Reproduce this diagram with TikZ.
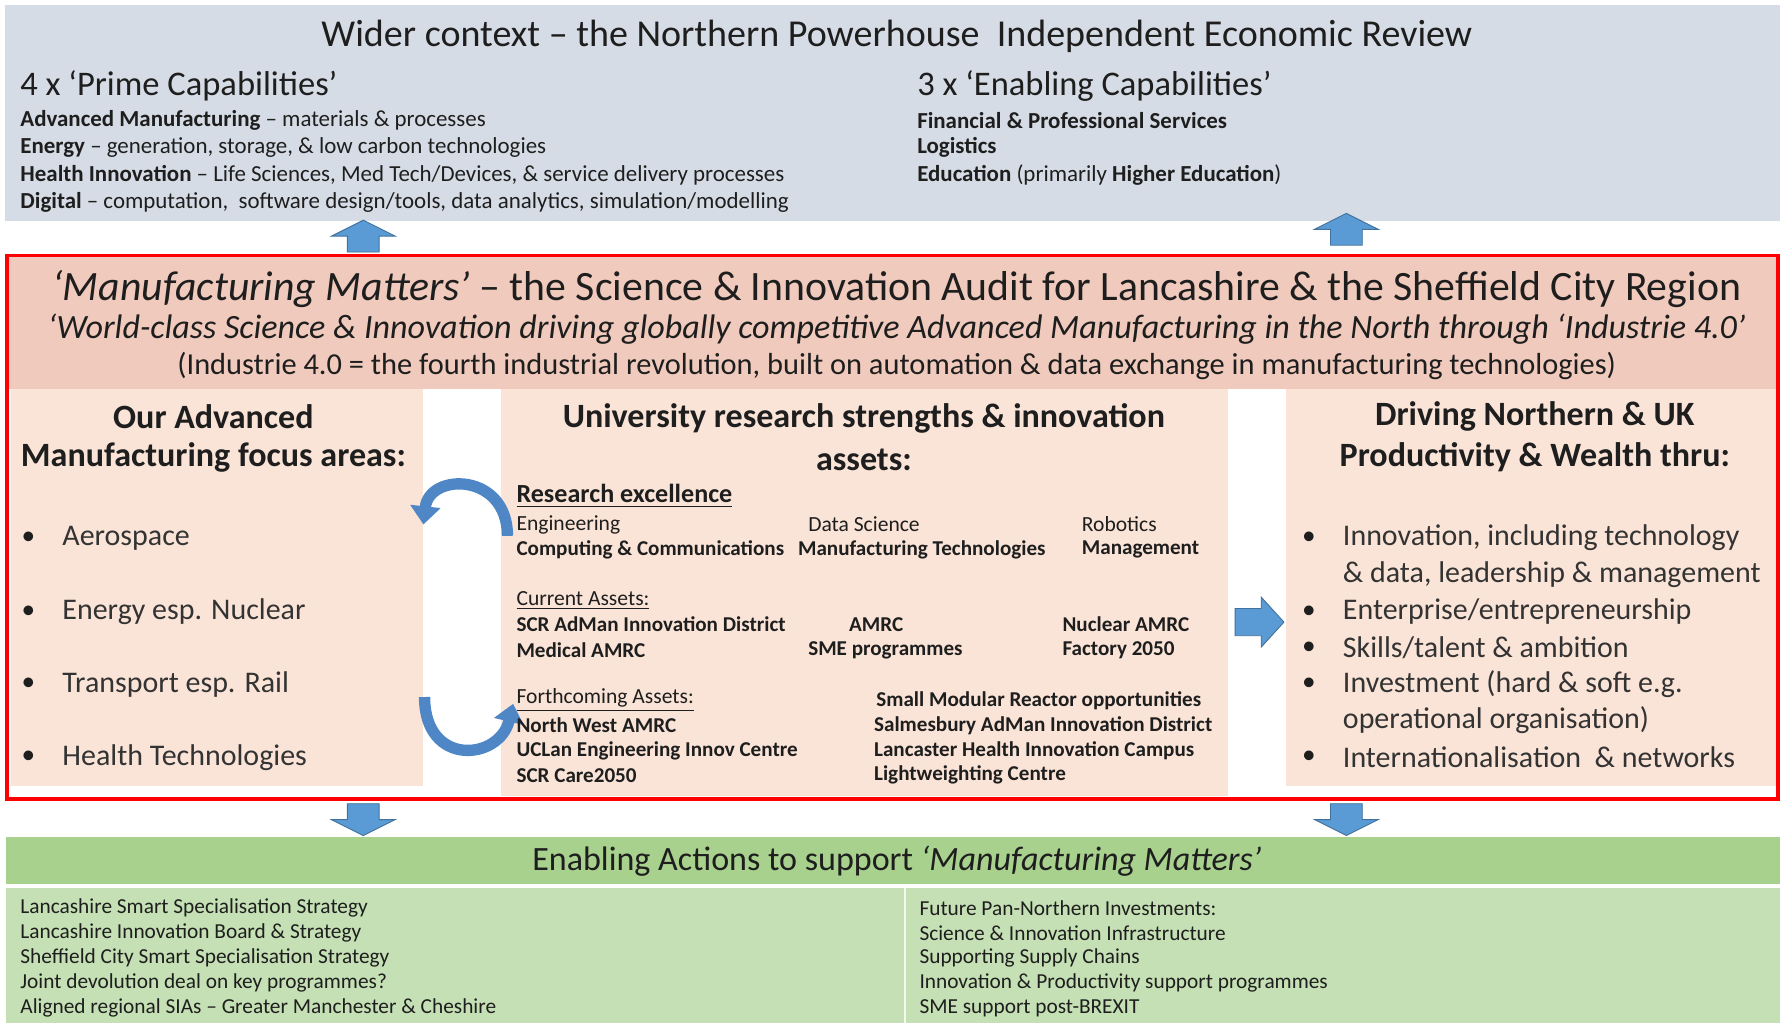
\documentclass[tikz,border=0pt]{standalone}
\usepackage{fontspec}
\setmainfont{Carlito}
\usetikzlibrary{arrows.meta}
\definecolor{greybox}{HTML}{D6DCE5}
\definecolor{hdr}{HTML}{F0CABC}
\definecolor{panel}{HTML}{FAE4D7}
\definecolor{ablue}{HTML}{5B9BD5}
\definecolor{ablued}{HTML}{41719C}
\definecolor{cblue}{HTML}{4F86C6}
\definecolor{ghdr}{HTML}{A9D18E}
\definecolor{gbody}{HTML}{C5E0B4}
\definecolor{txt}{HTML}{1E1E1E}
\definecolor{txtg}{HTML}{333333}
\definecolor{redline}{HTML}{FF0000}
\newcommand\myfs[2]{\fontsize{#1}{#2}\selectfont}
\tikzset{
  every node/.style={inner sep=0pt, outer sep=0pt, text=txt},
  lbl/.style={anchor=west},
  ctr/.style={anchor=center},
  bigtitle/.style={ctr, font=\myfs{16.75}{19}},
  captitle/.style={lbl, font=\myfs{15.2}{18}},
  topsmall/.style={lbl, font=\myfs{10.1}{12}},
  paneltitle/.style={ctr, font=\myfs{15}{18}\bfseries},
  bullettext/.style={lbl, font=\myfs{13.2}{15}, text=txtg},
  bulletdot/.style={lbl, font=\myfs{12}{15}},
  midsmall/.style={lbl, font=\myfs{9.5}{11}},
  midbold/.style={lbl, font=\myfs{9.3}{11}\bfseries},
  greensmall/.style={lbl, font=\myfs{9.4}{11}},
  blockarrow/.style={fill=ablue, draw=ablued, line width=0.4pt},
  curvarr/.style={draw=cblue, line width=5pt, -{Triangle[width=13pt,length=8pt]}},
  uparrowpic/.pic={\path[blockarrow] (-14,14) -- (-14,0) -- (-28,0) -- (0,-14) -- (28,0) -- (14,0) -- (14,14) -- cycle;},
  downarrowpic/.pic={\path[blockarrow] (-14,-14) -- (-14,0) -- (-28,0) -- (0,14) -- (28,0) -- (14,0) -- (14,-14) -- cycle;}
}
\begin{document}
\begin{tikzpicture}[x=0.5pt,y=-0.5pt]
\useasboundingbox (0,0) rectangle (1568,901);
\fill[white] (0,0) rectangle (1568,901);

% ---------- top grey box ----------
\fill[greybox] (4,4) rectangle (1568,195);
\node[bigtitle] (wider) at (790,32) {Wider context – the Northern Powerhouse\ \ Independent Economic Review};
\node[captitle] (prime) at (18,76) {4 x ‘Prime Capabilities’};
\node[topsmall] (p1) at (18,106) {\textbf{Advanced Manufacturing} – materials \& processes};
\node[topsmall] (p2) at (18,130) {\textbf{Energy} – generation, storage, \& low carbon technologies};
\node[topsmall] (p3) at (18,154) {\textbf{Health Innovation} – Life Sciences, Med Tech/Devices, \& service delivery processes};
\node[topsmall] (p4) at (18,178) {\textbf{Digital} – computation,\ \ software design/tools, data analytics, simulation/modelling};
\node[captitle] (enab) at (808,76) {3 x ‘Enabling Capabilities’};
\node[topsmall] (e1) at (808,106) {\textbf{Financial \& Professional Services}};
\node[topsmall] (e2) at (808,130) {\textbf{Logistics}};
\node[topsmall] (e3) at (808,154) {\textbf{Education} (primarily \textbf{Higher Education})};

% up arrows
\pic at (320,208) {uparrowpic};
\pic at (1186,202) {uparrowpic};

% ---------- red box ----------
\fill[hdr] (7,226) rectangle (1566,343);
\fill[panel] (10,343) rectangle (373,692);
\fill[panel] (441,343) rectangle (1082,701);
\fill[panel] (1133,343) rectangle (1566,692);
\draw[redline, line width=1.6pt] (6,225) rectangle (1566,704);

\node[ctr, font=\myfs{18.4}{21}] (mmtitle) at (790,255) {\textit{‘Manufacturing Matters’} – the Science \& Innovation Audit for Lancashire \& the Sheffield City Region};
\node[ctr, font=\myfs{15}{17}\itshape] (world) at (790,290) {‘World-class Science \& Innovation driving globally competitive Advanced Manufacturing in the North through ‘Industrie 4.0’};
\node[ctr, font=\myfs{13.4}{15}] (indus) at (790,322) {(Industrie 4.0 = the fourth industrial revolution, built on automation \& data exchange in manufacturing technologies)};

% left panel
\node[paneltitle] (lt1) at (188,367) {Our Advanced};
\node[paneltitle] (lt2) at (188,403) {Manufacturing focus areas:};
\foreach \yy/\tt [count=\i] in {474/Aerospace, 539/Energy esp. Nuclear, 603/Transport esp. Rail, 667/Health Technologies}{
  \node[bulletdot] (lb\i) at (19,\yy) {•};
  \node[bullettext] (lf\i) at (55,\yy) {\tt};
}

% curved arrows
\draw[curvarr] (447,472) .. controls (447,416) and (378,416) .. (373,462);
\draw[curvarr] (374,614) .. controls (374,676) and (440,670) .. (452,620);

% middle panel
\node[paneltitle] (mt1) at (761,369) {University research strengths \& innovation};
\node[paneltitle] (mt2) at (761,405) {assets:};
\node[lbl, font=\myfs{11.5}{13}\bfseries] (rex) at (455,437) {\underline{Research excellence}};
\node[midsmall] (m1a) at (455,462) {Engineering};
\node[midsmall] (m1b) at (712,462) {Data Science};
\node[midsmall] (m1c) at (953,462) {Robotics};
\node[midbold] (m2a) at (455,484) {Computing \& Communications};
\node[midbold] (m2b) at (703,484) {Manufacturing Technologies};
\node[midbold] (m2c) at (953,484) {Management};
\node[midsmall] (cur) at (455,529) {\underline{Current Assets:}};
\node[midbold] (c1a) at (455,550) {SCR AdMan Innovation District};
\node[midbold] (c1b) at (748,550) {AMRC};
\node[midbold] (c1c) at (936,550) {Nuclear AMRC};
\node[midbold] (c2a) at (455,573) {Medical AMRC};
\node[midbold] (c2b) at (712,573) {SME programmes};
\node[midbold] (c2c) at (936,573) {Factory 2050};
\node[midsmall] (fort) at (455,617) {\underline{Forthcoming Assets:}};
\node[midbold] (f1a) at (455,639) {North West AMRC};
\node[midbold] (f2a) at (455,661) {UCLan Engineering Innov Centre};
\node[midbold] (f3a) at (455,683) {SCR Care2050};
\node[midbold] (f0b) at (772,617) {Small Modular Reactor opportunities};
\node[midbold] (f1b) at (770,639) {Salmesbury AdMan Innovation District};
\node[midbold] (f2b) at (770,661) {Lancaster Health Innovation Campus};
\node[midbold] (f3b) at (770,683) {Lightweighting Centre};

% right arrow
\path[blockarrow] (1088,536) -- (1111,536) -- (1111,526) -- (1131,548) -- (1111,570) -- (1111,560) -- (1088,560) -- cycle;

% right panel
\node[paneltitle] (rt1) at (1352,367) {Driving Northern \& UK};
\node[paneltitle] (rt2) at (1352,403) {Productivity \& Wealth thru:};
\foreach \yy in {474,539,571,603,667}{
  \node[bulletdot] at (1147,\yy) {•};
}
\node[bullettext] (r1) at (1183,474) {Innovation, including technology};
\node[bullettext] (r1b) at (1183,506) {\& data, leadership \& management};
\node[bullettext] (r2) at (1183,539) {Enterprise/entrepreneurship};
\node[bullettext] (r3) at (1183,571) {Skills/talent \& ambition};
\node[bullettext] (r4) at (1183,603) {Investment (hard \& soft e.g.};
\node[bullettext] (r4b) at (1183,634) {operational organisation)};
\node[bullettext] (r5) at (1183,667) {Internationalisation\ \ \& networks};

% down arrows
\pic at (320,722) {downarrowpic};
\pic at (1186,722) {downarrowpic};

% ---------- green box ----------
\fill[ghdr] (5,737) rectangle (1568,779);
\fill[gbody] (5,782) rectangle (1568,901);
\draw[white!80!gbody, line width=1pt] (797,782) -- (797,901);
\node[ctr, font=\myfs{15}{17}] (enabling) at (790,759) {Enabling Actions to support \textit{‘Manufacturing Matters’}};
\foreach \yy/\tt [count=\i] in {800/Lancashire Smart Specialisation Strategy, 822/Lancashire Innovation Board \& Strategy, 844/Sheffield City Smart Specialisation Strategy, 866/Joint devolution deal on key programmes?, 888/Aligned regional SIAs – Greater Manchester \& Cheshire}{
  \node[greensmall] (gl\i) at (18,\yy) {\tt};
}
\foreach \yy/\tt [count=\i] in {800/Future Pan-Northern Investments:, 822/Science \& Innovation Infrastructure, 844/Supporting Supply Chains, 866/Innovation \& Productivity support programmes, 888/SME support post-BREXIT}{
  \node[greensmall] (gr\i) at (810,\yy) {\tt};
}
\end{tikzpicture}
\end{document}
